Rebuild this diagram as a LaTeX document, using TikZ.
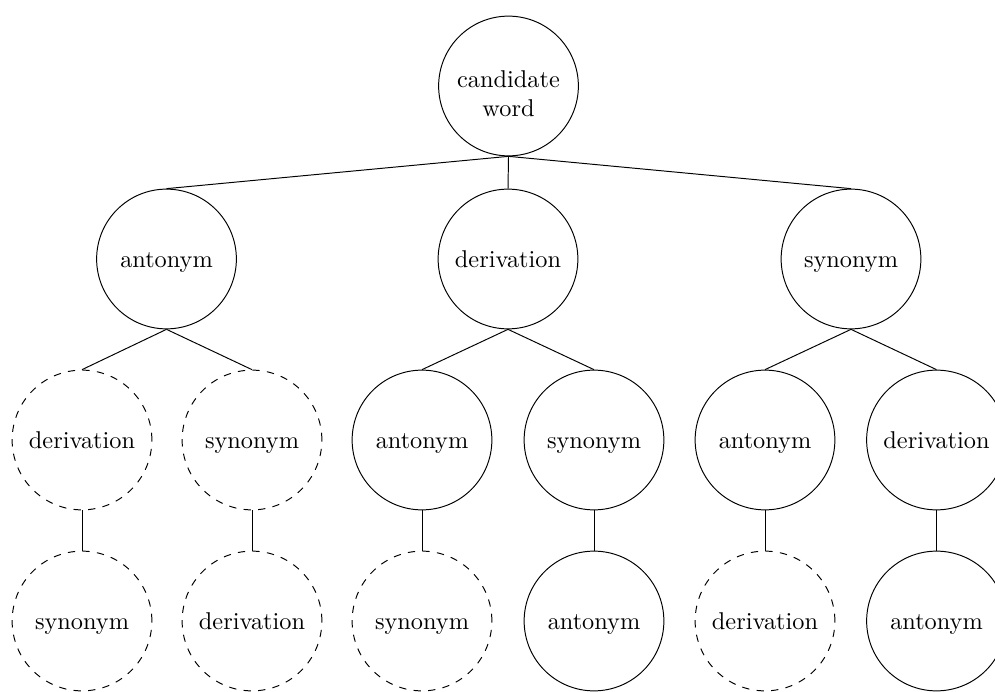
\documentclass[tikz,border=0pt]{standalone}
\begin{document}
\begin{tikzpicture}[x=0.4115pt,y=-0.4115pt,
  wordnode/.style={circle,draw,minimum size=57.5pt,inner sep=1pt,
    text height=7.4pt,text depth=0pt},
  rootnode/.style={wordnode,align=center,text height=25.5pt,text depth=0pt},
  guess/.style={wordnode,dashed},
  link/.style={draw}]
\useasboundingbox (0,0) rectangle (995,692);
% root
\node[rootnode] (root) at (508.5,86) {candidate\\word};
% first level
\node[wordnode] (a) at (166.5,259) {antonym};
\node[wordnode] (d) at (508,259) {derivation};
\node[wordnode] (s) at (851,259) {synonym};
% second level
\node[guess] (ad) at (82,440) {derivation};
\node[guess] (as) at (252,440) {synonym};
\node[wordnode] (da) at (422,440) {antonym};
\node[wordnode] (ds) at (594,440) {synonym};
\node[wordnode] (sa) at (765,440) {antonym};
\node[wordnode] (sd) at (936.5,440) {derivation};
% third level
\node[guess] (ads) at (82,621) {synonym};
\node[guess] (asd) at (252,621) {derivation};
\node[guess] (das) at (422,621) {synonym};
\node[wordnode] (dsa) at (594,621) {antonym};
\node[guess] (sad) at (765,621) {derivation};
\node[wordnode] (sda) at (936.5,621) {antonym};
% connectors
\foreach \p/\c in {root/a,root/d,root/s,a/ad,a/as,d/da,d/ds,s/sa,s/sd,
                   ad/ads,as/asd,da/das,ds/dsa,sa/sad,sd/sda}
  \draw[link] (\p.south) -- (\c.north);
\end{tikzpicture}
\end{document}
